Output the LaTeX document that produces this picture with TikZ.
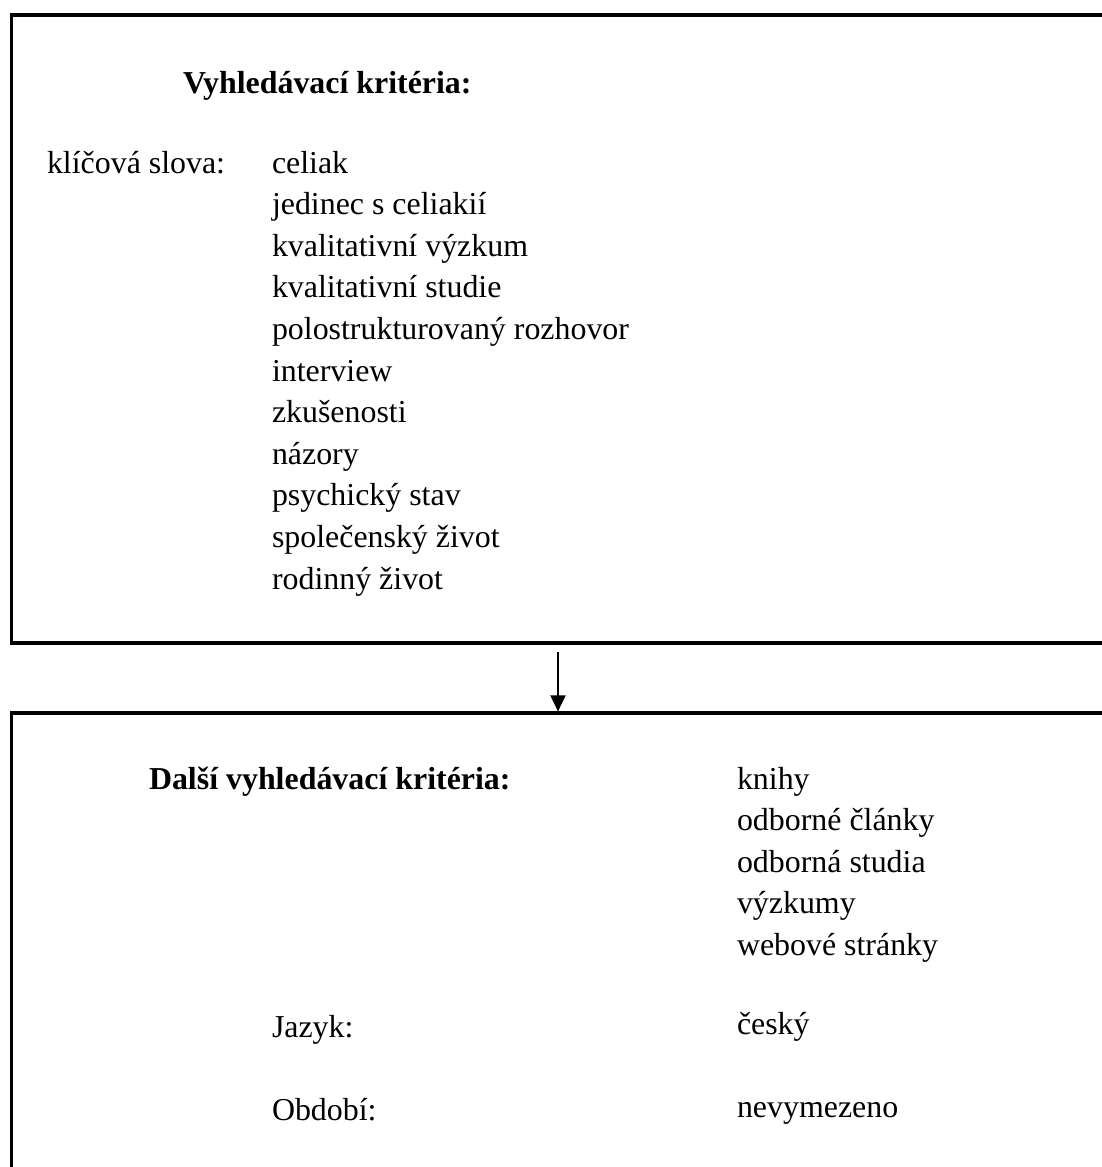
\documentclass[tikz,border=0pt]{standalone}
\usepackage{fontspec}
\setmainfont{Liberation Serif}
\usetikzlibrary{arrows.meta}

\begin{document}
\begin{tikzpicture}[
x=1pt, y=-1pt,
framebox/.style={rectangle, draw=black, line width=3.2pt, anchor=north west, inner sep=0pt},
headnode/.style={inner sep=0pt, outer sep=0pt, anchor=base west, font=\fontsize{31.9pt}{41.6pt}\selectfont\bfseries},
labelnode/.style={inner sep=0pt, outer sep=0pt, anchor=base west, font=\fontsize{31.9pt}{41.6pt}\selectfont},
listnode/.style={inner sep=0pt, outer sep=0pt, anchor=north west, text height=30pt, text depth=11.6pt, font=\fontsize{31.9pt}{41.6pt}\selectfont},
arrowline/.style={-{Triangle[length=16pt,width=15pt]}, line width=2pt},
]
\useasboundingbox (0,0) rectangle (1101,1167);

%Boxes
\node[framebox, minimum width=1120pt, minimum height=628pt]	(searchbox)	at (10,13.4)	{};
\node[framebox, minimum width=1120pt, minimum height=600pt]	(otherbox)	at (10,711.4)	{};

%Top box
\node[headnode]		(searchhead)	at (183,93)		{Vyhledávací kritéria:};
\node[labelnode]	(keywords)		at (47,173)		{klíčová slova:};
\node[listnode, anchor=base west]	(celiak)	at (272,173)	{celiak};
\node[listnode]		(jedinec)		at (celiak.south west)		{jedinec s celiakií};
\node[listnode]		(kvalvyzkum)	at (jedinec.south west)		{kvalitativní výzkum};
\node[listnode]		(kvalstudie)	at (kvalvyzkum.south west)	{kvalitativní studie};
\node[listnode]		(rozhovor)		at (kvalstudie.south west)	{polostrukturovaný rozhovor};
\node[listnode]		(interview)		at (rozhovor.south west)	{interview};
\node[listnode]		(zkusenosti)	at (interview.south west)	{zkušenosti};
\node[listnode]		(nazory)		at (zkusenosti.south west)	{názory};
\node[listnode]		(psychika)		at (nazory.south west)		{psychický stav};
\node[listnode]		(spolecnost)	at (psychika.south west)	{společenský život};
\node[listnode]		(rodina)		at (spolecnost.south west)	{rodinný život};

%Bottom box
\node[headnode]		(otherhead)		at (149,789)	{Další vyhledávací kritéria:};
\node[listnode, anchor=base west]	(knihy)	at (737,789)	{knihy};
\node[listnode]		(clanky)		at (knihy.south west)		{odborné články};
\node[listnode]		(studia)		at (clanky.south west)		{odborná studia};
\node[listnode]		(vyzkumy)		at (studia.south west)		{výzkumy};
\node[listnode]		(weby)			at (vyzkumy.south west)		{webové stránky};
\node[labelnode]	(jazyk)			at (272,1037)	{Jazyk:};
\node[labelnode]	(cesky)			at (737,1034)	{český};
\node[labelnode]	(obdobi)		at (272,1120)	{Období:};
\node[labelnode]	(nevymezeno)	at (737,1117)	{nevymezeno};

%Arrow
\coordinate (arrowstart) at (558,652);
\draw[arrowline] (arrowstart) -- (arrowstart |- otherbox.north);
\end{tikzpicture}
\end{document}
